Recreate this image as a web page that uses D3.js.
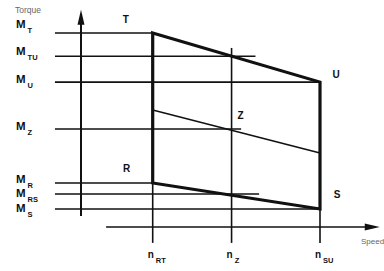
<!DOCTYPE html>
<html><head><meta charset="utf-8">
<script src="https://cdn.jsdelivr.net/npm/d3@7"></script>
<style>body{margin:0;background:#fff}svg{display:block}</style>
</head><body>
<script>
// Torque levels (arbitrary units, x-axis = 0, M_T = 100)
const torqueNames  = ["T", "TU", "U", "Z", "R", "RS", "S"];
const torqueValues = [100, 88, 74.7, 50.5, 22.7, 17, 9.3];
// speed at which each torque reference line stops
const torqueLineEnd = [30, 73, 100, 67, 30, 74.5, 100];
// Speed marks
const speedNames  = ["RT", "Z", "SU"];
const speedValues = [30, 63, 100];
const speedLineTop = [100, 92.3, 74.7];
// Operating area corners T-U-S-R
const cornerNames  = ["T", "U", "S", "R"];
const cornerSpeed  = [30, 100, 100, 30];
const cornerTorque = [100, 74.7, 9.3, 22.7];
// Intermediate line through Z
const zSpeed  = [30, 100];
const zTorque = [60.3, 38.1];

const W = 384, H = 271;
const x = d3.scaleLinear().domain([0, 100]).range([81, 320]);
const y = d3.scaleLinear().domain([0, 100]).range([227, 33]);
const ink = "#111";

const svg = d3.select("body").append("svg").attr("width", W).attr("height", H);
const line = d3.line().x(d => x(d[0])).y(d => y(d[1]));

// torque reference lines
torqueValues.forEach((t, i) => {
  svg.append("path").attr("d", line([[-10.9, t], [torqueLineEnd[i], t]]))
    .attr("stroke", ink).attr("stroke-width", 1.6).attr("fill", "none");
});
// speed mark lines
speedValues.forEach((s, i) => {
  svg.append("path").attr("d", line([[s, speedLineTop[i]], [s, -8.2]]))
    .attr("stroke", ink).attr("stroke-width", 1.6).attr("fill", "none");
});
// Y axis with arrow
svg.append("path").attr("d", line([[0, 5.7], [0, 106]]))
  .attr("stroke", ink).attr("stroke-width", 2).attr("fill", "none");
svg.append("path").attr("d", `M${x(0)},${y(112)} L${x(0)-3.5},${y(112)+15} L${x(0)+3.5},${y(112)+15} Z`)
  .attr("fill", ink);
// X axis with arrow
svg.append("path").attr("d", line([[10.5, 0], [119, 0]]))
  .attr("stroke", ink).attr("stroke-width", 1.6).attr("fill", "none");
svg.append("path").attr("d", `M${x(125)},${y(0)} L${x(125)-15},${y(0)-3.5} L${x(125)-15},${y(0)+3.5} Z`)
  .attr("fill", ink);

// Z line
svg.append("path").attr("d", line(zSpeed.map((s, i) => [s, zTorque[i]])))
  .attr("stroke", ink).attr("stroke-width", 1.6).attr("fill", "none");

// operating area (thick)
svg.append("path")
  .attr("d", line(cornerSpeed.map((s, i) => [s, cornerTorque[i]])) + "Z")
  .attr("stroke", ink).attr("stroke-width", 3.2).attr("fill", "none")
  .attr("stroke-linejoin", "miter");

const font = "'Liberation Sans', Arial, sans-serif";
// axis titles
svg.append("text").attr("x", 15).attr("y", 13).text("Torque")
  .attr("font-family", font).attr("font-size", 8.5).attr("fill", "#666");
svg.append("text").attr("x", 361).attr("y", 244).text("Speed")
  .attr("font-family", font).attr("font-size", 8).attr("fill", "#666");

// torque labels M_x
const mNudge = [-5, -1, 1, 1, 0, 3, 3];
torqueValues.forEach((t, i) => {
  const ty = y(t) + mNudge[i];
  const g = svg.append("text").attr("x", 16).attr("y", ty)
    .attr("font-family", font).attr("font-weight", "bold").attr("fill", ink);
  g.append("tspan").attr("font-size", 11.5).text("M");
  g.append("tspan").attr("font-size", 7.5).attr("dx", 2).attr("dy", 5).text(torqueNames[i]);
});
// speed labels n_x
speedValues.forEach((s, i) => {
  const g = svg.append("text").attr("x", x(s) - 5).attr("y", 258)
    .attr("font-family", font).attr("font-weight", "bold").attr("fill", ink);
  g.append("tspan").attr("font-size", 10).text("n");
  g.append("tspan").attr("font-size", 7.5).attr("dx", 2).attr("dy", 5).text(speedNames[i]);
});
// corner labels
const cornerOff = [[-27, -10], [16, -4], [17, -11], [-26, -11]];
cornerNames.forEach((n, i) => {
  svg.append("text").attr("x", x(cornerSpeed[i]) + cornerOff[i][0])
    .attr("y", y(cornerTorque[i]) + cornerOff[i][1])
    .attr("text-anchor", "middle").attr("font-family", font)
    .attr("font-weight", "bold").attr("font-size", 10).attr("fill", ink).text(n);
});
svg.append("text").attr("x", x(speedValues[1]) + 9).attr("y", y(torqueValues[3]) - 10)
  .attr("text-anchor", "middle").attr("font-family", font)
  .attr("font-weight", "bold").attr("font-size", 10).attr("fill", ink).text("Z");
</script>
</body></html>
